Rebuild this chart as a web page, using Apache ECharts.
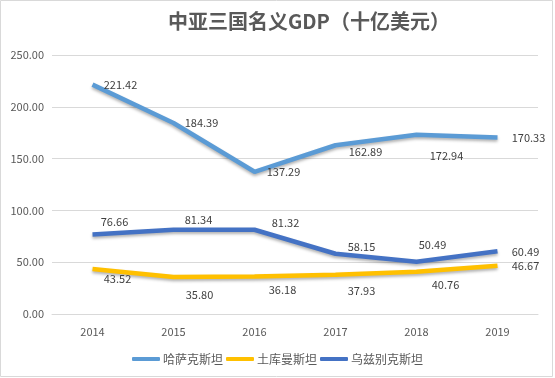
<!DOCTYPE html>
<html><head><meta charset="utf-8">
<script src="https://cdn.jsdelivr.net/npm/echarts@6/dist/echarts.min.js"></script>
<style>html,body{margin:0;padding:0;background:#fff}#c{width:555px;height:378px}</style>
</head><body><div id="c"></div>
<script>
const years = ['2014','2015','2016','2017','2018','2019'];
const kazakhstan = [221.42, 184.39, 137.29, 162.89, 172.94, 170.33];
const turkmenistan = [43.52, 35.80, 36.18, 37.93, 40.76, 46.67];
const uzbekistan = [76.66, 81.34, 81.32, 58.15, 50.49, 60.49];
const seriesNames = ['哈萨克斯坦','土库曼斯坦','乌兹别克斯坦'];
const yTicks = [0, 50, 100, 150, 200, 250];

// label offsets from each point (style only)
const kazLabelOff = [[28,0],[28,0],[29,0],[30,7],[30,21],[31,0]];
const turLabelOff = [[25,10],[26,18],[28,13],[26,16],[29,13],[28,0]];
const uzbLabelOff = [[22,-13],[25,-10],[31,-7],[26,-7],[16,-17],[28,0]];

const font = '"Noto Sans CJK SC","Noto Sans",sans-serif';
function mk(vals, off) {
  return vals.map((v, i) => ({
    value: v,
    label: { position: 'inside', offset: off[i] }
  }));
}
function series(name, vals, off, color) {
  return {
    name, type: 'line', data: mk(vals, off), symbol: 'circle', symbolSize: 0, showSymbol: true,
    lineStyle: { width: 4.5, color, shadowColor: 'rgba(0,0,0,0.3)', shadowBlur: 3, shadowOffsetY: 2 },
    itemStyle: { color },
    label: { show: true, color: '#404040', fontSize: 11, fontFamily: font,
      formatter: p => p.value.toFixed(2) }
  };
}
const chart = echarts.init(document.getElementById('c'));
chart.setOption({
  animation: false,
  title: { text: '中亚三国名义GDP（十亿美元）', left: 163, top: 6,
    textStyle: { fontSize: 20, fontWeight: 'bold', color: '#595959', fontFamily: font } },
  graphic: [{ type: 'rect', shape: { x: 0.5, y: 0.5, width: 552, height: 376 }, style: { fill: 'none', stroke: '#d9d9d9', lineWidth: 1 }, silent: true }],
  legend: { bottom: 8, left: 'center', itemWidth: 28, itemHeight: 4, itemGap: 3,
    icon: 'roundRect',
    textStyle: { fontSize: 12, color: '#595959', fontFamily: font, padding: [0,0,0,-2] } },
  grid: { left: 52, right: 17, top: 55, bottom: 64 },
  xAxis: { type: 'category', data: years, boundaryGap: true,
    axisLine: { lineStyle: { color: '#d9d9d9' } }, axisTick: { show: false },
    axisLabel: { color: '#595959', fontSize: 11, margin: 12, fontFamily: font } },
  yAxis: { type: 'value', min: yTicks[0], max: yTicks[yTicks.length-1], interval: 50,
    axisLine: { show: false }, axisTick: { show: false },
    splitLine: { lineStyle: { color: '#d9d9d9' } },
    axisLabel: { color: '#595959', fontSize: 11, margin: 8, fontFamily: font, formatter: v => v.toFixed(2) } },
  series: [
    series(seriesNames[0], kazakhstan, kazLabelOff, '#5B9BD5'),
    series(seriesNames[1], turkmenistan, turLabelOff, '#FFC000'),
    series(seriesNames[2], uzbekistan, uzbLabelOff, '#4472C4')
  ]
});
</script></body></html>
